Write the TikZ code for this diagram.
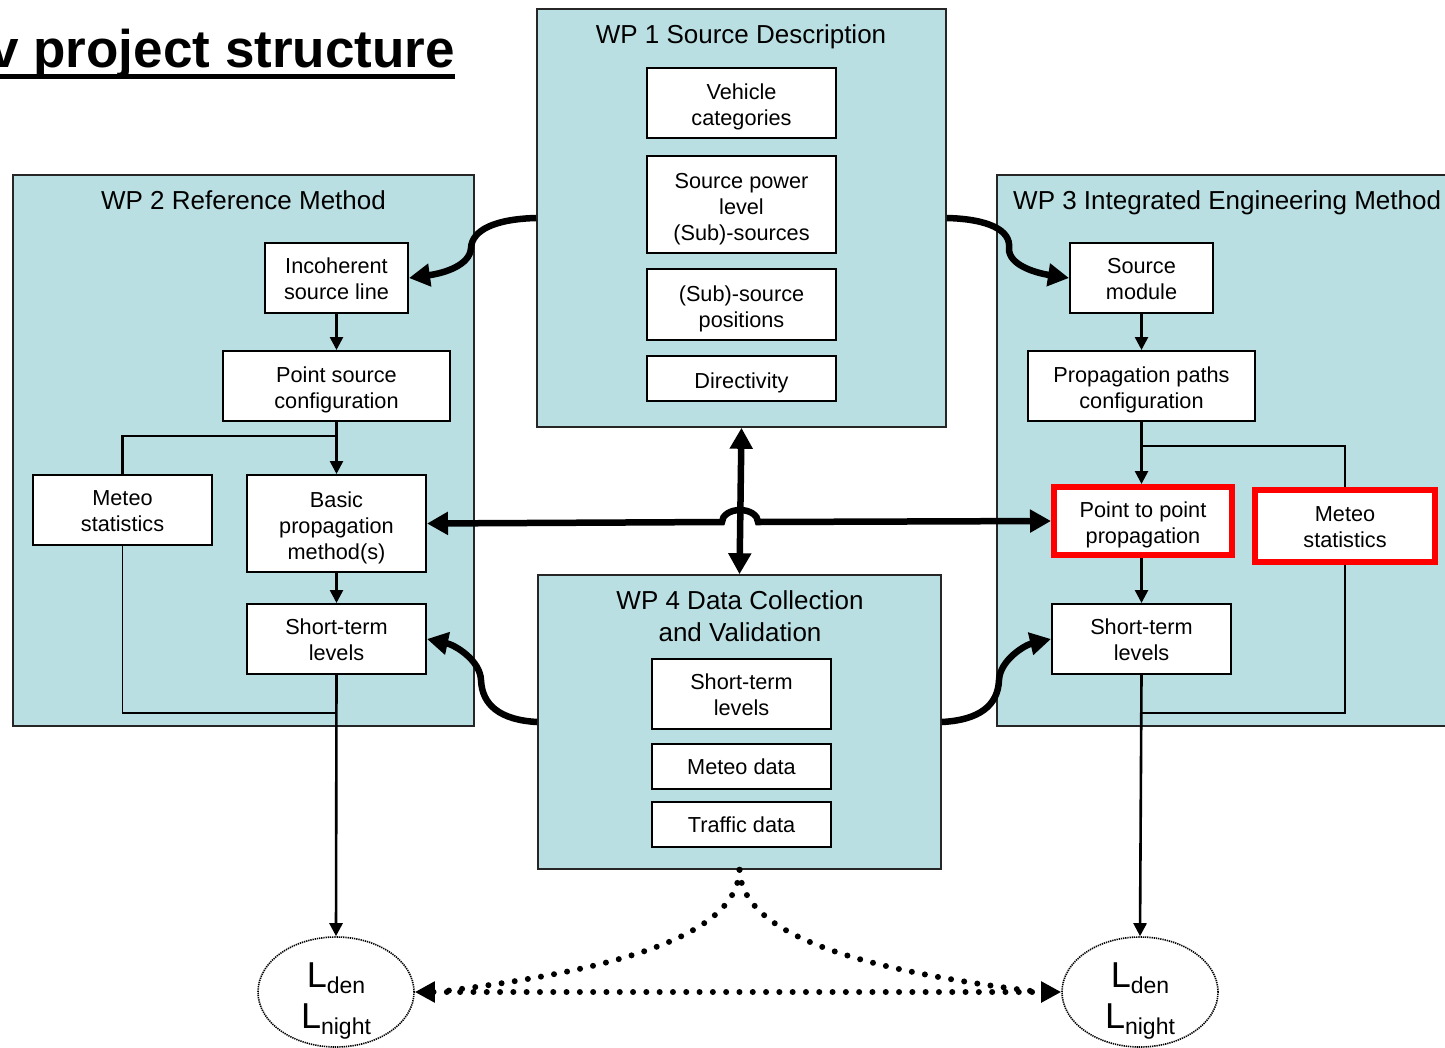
\documentclass[tikz,border=0pt]{standalone}
\usepackage{fontspec}
\setmainfont{Liberation Sans}
\usetikzlibrary{arrows.meta,shapes.geometric}
\definecolor{panel}{RGB}{186,223,226}
\newcommand{\sv}{\rule{0pt}{24pt}}
\newcommand{\dv}{\rule[-8pt]{0pt}{8pt}}
\begin{document}
\begin{tikzpicture}[x=1pt,y=-1pt,
 panelbox/.style={draw=black!85, line width=1.6pt, fill=panel, inner sep=0pt},
 wbox/.style={draw=black, line width=2pt, fill=white, inner sep=0pt, align=center, font=\fontsize{21.7}{26}\selectfont},
 redbox/.style={wbox, draw=red, line width=6pt},
 ttl/.style={font=\fontsize{26}{32}\selectfont, inner sep=0pt, anchor=base},
 conn/.style={line width=2.6pt, -{Triangle[length=13pt,width=13pt]}},
 plainconn/.style={line width=2.6pt},
 retline/.style={line width=1.5pt},
 big/.style={line width=6.5pt, -{Triangle[length=21pt,width=22pt]}},
 bigboth/.style={line width=6.5pt, {Triangle[length=21pt,width=22pt]}-{Triangle[length=21pt,width=22pt]}},
 dotline/.style={line width=6pt, line cap=round, dash pattern=on 0pt off 13.3pt},
 lvl/.style={draw, ellipse, dash pattern=on 1.3pt off 0.9pt, line width=1.6pt, minimum width=156pt, minimum height=110pt, inner sep=0pt},
 ltext/.style={inner sep=0pt, anchor=base, font=\fontsize{36}{41}\selectfont}
]
\useasboundingbox (0,0) rectangle (1445,1047);
\fill[white] (0,0) rectangle (1445,1047);

% title
\node[font=\fontsize{53}{60}\selectfont\bfseries, inner sep=0pt, anchor=base east] (title) at (455,67) {v project structure};
\draw[line width=5pt] ([yshift=-9.5pt]title.base east) -- ([yshift=-9.5pt]title.base west);

% panels
\node[panelbox, minimum width=409pt, minimum height=418pt] (WP1) at (741.5,218) {};
\node[panelbox, minimum width=461pt, minimum height=551pt] (WP2) at (243.5,450.5) {};
\node[panelbox, minimum width=455pt, minimum height=551pt] (WP3) at (1224.5,450.5) {};
\node[panelbox, minimum width=403pt, minimum height=294pt] (WP4) at (739.5,722) {};

\node[ttl] (t1) at (741,43) {WP 1 Source Description};
\node[ttl] (t2) at (243.5,209) {WP 2 Reference Method};
\node[ttl, anchor=base west] (t3) at (1013,209) {WP 3 Integrated Engineering Method};
\node[ttl, align=center] (t4) at (740,641) {WP 4 Data Collection\\and Validation};

% WP1 boxes
\node[wbox, minimum width=189pt, minimum height=70pt] (veh) at (741.5,103) {\sv Vehicle\\categories};
\node[wbox, minimum width=189pt, minimum height=97pt] (spl) at (741.5,204.5) {\sv Source power\\level\\(Sub)-sources};
\node[wbox, minimum width=189pt, minimum height=71pt] (pos) at (741.5,304.5) {\sv (Sub)-source\\positions};
\node[wbox, minimum width=189pt, minimum height=45pt] (dir) at (741.5,378.5) {\sv Directivity};

% WP2 boxes
\node[wbox, minimum width=143pt, minimum height=70pt] (inc) at (336.5,278) {\sv Incoherent\\source line\dv};
\node[wbox, minimum width=227pt, minimum height=70pt] (psc) at (336.5,386) {\sv Point source\\configuration};
\node[wbox, minimum width=179pt, minimum height=70pt] (met2) at (122.5,510) {\sv Meteo\\statistics\dv};
\node[wbox, minimum width=179pt, minimum height=97pt] (bpm) at (336.5,523.5) {\sv Basic\\propagation\\method(s)};
\node[wbox, minimum width=179pt, minimum height=70pt] (st2) at (336.5,639) {\sv Short-term\\levels\dv};

% WP3 boxes
\node[wbox, minimum width=143pt, minimum height=70pt] (srcm) at (1141.5,278) {\sv Source\\module\dv};
\node[wbox, minimum width=227pt, minimum height=70pt] (ppc) at (1141.5,386) {\sv Propagation paths\\configuration};
\node[redbox, minimum width=178pt, minimum height=68pt] (p2p) at (1143,521) {\sv Point to point\\propagation};
\node[redbox, minimum width=180pt, minimum height=72pt] (met3) at (1345,526) {\sv Meteo\\statistics\dv};
\node[wbox, minimum width=179pt, minimum height=70pt] (st3) at (1141.5,639) {\sv Short-term\\levels\dv};

% WP4 boxes
\node[wbox, minimum width=179pt, minimum height=70pt] (st4) at (741.5,694) {\sv Short-term\\levels\dv};
\node[wbox, minimum width=179pt, minimum height=45pt] (md) at (741.5,766.5) {\sv Meteo data\dv};
\node[wbox, minimum width=179pt, minimum height=45pt] (td) at (741.5,824.5) {\sv Traffic data\dv};

% level ellipses
\node[lvl] (L1) at (336,992) {};
\node[lvl] (L2) at (1140,992) {};
\node[ltext] (L1a) at (336,987) {L\raisebox{-6.5pt}{\fontsize{23}{23}\selectfont den}};
\node[ltext] (L1b) at (336,1028) {L\raisebox{-6.5pt}{\fontsize{23}{23}\selectfont night}};
\node[ltext] (L2a) at (1140,987) {L\raisebox{-6.5pt}{\fontsize{23}{23}\selectfont den}};
\node[ltext] (L2b) at (1140,1028) {L\raisebox{-6.5pt}{\fontsize{23}{23}\selectfont night}};

% helper coordinates
\coordinate (brL) at (336.5,436);
\coordinate (retL) at (336.5,713);
\coordinate (brR) at (1141.5,446);
\coordinate (retR) at (1141.5,713);
\coordinate (hopL) at (722,522);

% WP2 connectors
\draw[conn] (inc.south) -- (psc.north);
\draw[conn] (psc.south) -- (bpm.north);
\draw[plainconn] (brL) -| (met2.north);
\draw[conn] (bpm.south) -- (st2.north);
\draw[retline] (met2.south) |- (retL);
\draw[conn] (st2.south) -- (L1.north);

% WP3 connectors
\draw[conn] (srcm.south) -- (ppc.north);
\draw[conn] (ppc.south) -- (ppc.south |- p2p.north);
\draw[plainconn] (brR) -| (met3.north);
\draw[conn] (p2p.south -| st3.north) -- (st3.north);
\draw[retline] (met3.south) |- (retR);
\draw[conn] (st3.south) -- (L2.north);

% thick curved arrows
\draw[big] (WP1.west) .. controls (495,219) and (472,230) .. (471,248) .. controls (470,265) and (445,273) .. (inc.east);
\draw[big] (WP1.east) .. controls (988,219) and (1011,230) .. (1009,248) .. controls (1008,265) and (1036,273) .. (srcm.west);
\draw[big] (WP4.west) .. controls (500,720) and (482,705) .. (481,680) .. controls (480,660) and (455,645) .. (st2.east);
\draw[big] (WP4.east) .. controls (980,720) and (998,705) .. (999,680) .. controls (1000,660) and (1025,645) .. (st3.west);

% vertical double arrow and horizontal line with hop
\draw[bigboth] (WP1.south) -- (WP4.north);
\draw[bigboth] (bpm.east) -- (hopL) arc[start angle=180, end angle=0, x radius=18pt, y radius=12pt] -- (p2p.west);

% dotted links
\draw[dotline, {Triangle[length=20pt,width=20pt]}-{Triangle[length=20pt,width=20pt]}] (L1.east) -- (L2.west);
\draw[dotline] (WP4.south) .. controls (737,935) and (620,970) .. ([xshift=22pt]L1.east);
\draw[dotline] (WP4.south) .. controls (742,935) and (859,970) .. ([xshift=-22pt]L2.west);
\end{tikzpicture}
\end{document}
